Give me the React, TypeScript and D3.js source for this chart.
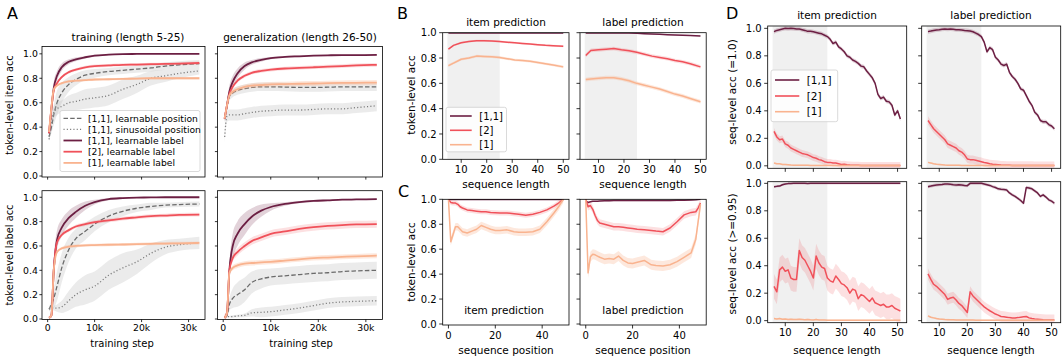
import React from 'react';
import * as d3 from 'd3';

const FONT = 'DejaVu Sans, sans-serif';
const C_DARK = '#6c1f43';
const C_RED = '#f0515a';
const C_PEACH = '#f9b38f';
const C_GREY = '#6b6b6b';
const C_SHADE = '#f0f0f0';

// ---------- A: token-level acc over training
const stepsA = [300, 800, 1300, 2000, 3000, 4500, 6000, 8000, 10000, 13000, 16000, 19000, 22000, 25000, 28000, 32300];
const stepTicks = [0, 10000, 20000, 30000];
const stepTickLabels = ['0', '10k', '20k', '30k'];
const accTicks = [0, 0.2, 0.4, 0.6, 0.8, 1.0];
const accTickLabels = ['0.0', '0.2', '0.4', '0.6', '0.8', '1.0'];
const legendA = ['[1,1], learnable position', '[1,1], sinusoidal position', '[1,1], learnable label', '[2], learnable label', '[1], learnable label'];

// training, item acc
const trItemPos = [0.32, 0.40, 0.50, 0.60, 0.68, 0.75, 0.79, 0.825, 0.84, 0.855, 0.865, 0.875, 0.885, 0.90, 0.91, 0.92];
const trItemPosSd = [0.02, 0.05, 0.08, 0.10, 0.08, 0.06, 0.05, 0.04, 0.035, 0.03, 0.03, 0.03, 0.03, 0.03, 0.03, 0.03];
const trItemSin = [0.30, 0.45, 0.52, 0.55, 0.57, 0.60, 0.61, 0.63, 0.64, 0.66, 0.71, 0.75, 0.80, 0.82, 0.84, 0.86];
const trItemSinSd = [0.02, 0.04, 0.05, 0.05, 0.05, 0.06, 0.07, 0.08, 0.08, 0.08, 0.08, 0.07, 0.06, 0.05, 0.04, 0.03];
const trItem11 = [0.35, 0.55, 0.72, 0.82, 0.89, 0.935, 0.955, 0.972, 0.985, 0.993, 0.997, 0.999, 1, 1, 1, 1];
const trItem11Sd = [0.02, 0.04, 0.05, 0.04, 0.03, 0.02, 0.015, 0.01, 0.008, 0.005, 0.003, 0.002, 0.002, 0.002, 0.002, 0.002];
const trItem2 = [0.35, 0.55, 0.70, 0.76, 0.81, 0.85, 0.87, 0.89, 0.90, 0.905, 0.91, 0.912, 0.915, 0.918, 0.92, 0.925];
const trItem1 = [0.36, 0.56, 0.71, 0.74, 0.76, 0.775, 0.78, 0.785, 0.79, 0.792, 0.795, 0.797, 0.80, 0.80, 0.80, 0.80];

// generalization, item acc
const geItemPos = [0.47, 0.57, 0.65, 0.68, 0.70, 0.715, 0.725, 0.73, 0.73, 0.728, 0.725, 0.725, 0.727, 0.73, 0.73, 0.73];
const geItemSin = [0.32, 0.49, 0.50, 0.50, 0.50, 0.51, 0.52, 0.53, 0.535, 0.54, 0.54, 0.545, 0.55, 0.55, 0.56, 0.575];
const geItem11 = [0.47, 0.58, 0.69, 0.77, 0.84, 0.90, 0.93, 0.95, 0.965, 0.975, 0.98, 0.985, 0.988, 0.99, 0.99, 0.992];
const geItem11Sd = [0.02, 0.04, 0.05, 0.05, 0.04, 0.03, 0.02, 0.015, 0.01, 0.008, 0.006, 0.005, 0.005, 0.005, 0.005, 0.005];
const geItem2 = [0.47, 0.58, 0.67, 0.73, 0.78, 0.82, 0.845, 0.86, 0.87, 0.88, 0.885, 0.89, 0.895, 0.90, 0.905, 0.91];
const geItem1 = [0.47, 0.58, 0.66, 0.69, 0.71, 0.73, 0.74, 0.745, 0.75, 0.752, 0.755, 0.757, 0.76, 0.762, 0.763, 0.765];

// training, label acc
const trLabPos = [0.08, 0.12, 0.17, 0.27, 0.42, 0.57, 0.66, 0.72, 0.78, 0.845, 0.885, 0.91, 0.925, 0.935, 0.94, 0.945];
const trLabPosSd = [0.02, 0.04, 0.08, 0.12, 0.12, 0.10, 0.08, 0.07, 0.06, 0.05, 0.04, 0.03, 0.03, 0.02, 0.02, 0.02];
const trLabSin = [0.08, 0.09, 0.09, 0.09, 0.10, 0.15, 0.20, 0.24, 0.27, 0.36, 0.42, 0.47, 0.54, 0.59, 0.61, 0.625];
const trLabSinSd = [0.01, 0.02, 0.02, 0.03, 0.05, 0.08, 0.10, 0.12, 0.12, 0.12, 0.12, 0.10, 0.08, 0.06, 0.05, 0.05];
const trLab11 = [0.01, 0.03, 0.40, 0.65, 0.75, 0.83, 0.88, 0.93, 0.96, 0.985, 0.993, 0.997, 0.999, 1, 1, 1];
const trLab11Sd = [0.005, 0.01, 0.08, 0.08, 0.07, 0.06, 0.05, 0.035, 0.02, 0.01, 0.005, 0.003, 0.002, 0.002, 0.002, 0.002];
const trLab2 = [0.01, 0.03, 0.40, 0.63, 0.69, 0.73, 0.76, 0.78, 0.795, 0.81, 0.825, 0.835, 0.845, 0.85, 0.855, 0.857];
const trLab1 = [0.01, 0.03, 0.40, 0.55, 0.58, 0.595, 0.60, 0.605, 0.607, 0.61, 0.612, 0.615, 0.618, 0.62, 0.622, 0.625];

// generalization, label acc
const geLabPos = [0.01, 0.03, 0.12, 0.17, 0.20, 0.24, 0.30, 0.33, 0.345, 0.355, 0.365, 0.375, 0.38, 0.39, 0.395, 0.40];
const geLabPosSd = [0.005, 0.02, 0.05, 0.08, 0.10, 0.10, 0.09, 0.08, 0.07, 0.07, 0.07, 0.07, 0.07, 0.07, 0.07, 0.07];
const geLabSin = [0.02, 0.02, 0.02, 0.02, 0.025, 0.03, 0.05, 0.055, 0.06, 0.075, 0.09, 0.11, 0.13, 0.14, 0.145, 0.15];
const geLabSinSd = [0.005, 0.005, 0.005, 0.01, 0.01, 0.015, 0.03, 0.04, 0.04, 0.04, 0.04, 0.04, 0.04, 0.04, 0.04, 0.04];
const geLab11 = [0.01, 0.05, 0.40, 0.60, 0.70, 0.78, 0.84, 0.89, 0.92, 0.945, 0.96, 0.97, 0.975, 0.98, 0.982, 0.985];
const geLab11Sd = [0.005, 0.02, 0.06, 0.10, 0.10, 0.09, 0.07, 0.05, 0.03, 0.015, 0.01, 0.008, 0.006, 0.005, 0.005, 0.005];
const geLab2 = [0.01, 0.05, 0.40, 0.50, 0.55, 0.60, 0.64, 0.67, 0.70, 0.72, 0.74, 0.755, 0.765, 0.772, 0.777, 0.78];
const geLab1 = [0.01, 0.05, 0.38, 0.42, 0.44, 0.455, 0.46, 0.465, 0.47, 0.48, 0.49, 0.50, 0.505, 0.51, 0.515, 0.52];

// ---------- B: acc vs sequence length
const lenB = [5, 7, 10, 13, 16, 19, 22, 25, 28, 31, 34, 37, 40, 43, 46, 50];
const lenTicks = [10, 20, 30, 40, 50];
const lenTickLabels = ['10', '20', '30', '40', '50'];
const legendB = ['[1,1]', '[2]', '[1]'];
const bItem11 = [0.998, 0.998, 0.998, 0.998, 0.998, 0.998, 0.998, 0.998, 0.998, 0.998, 0.998, 0.998, 0.998, 0.998, 0.998, 0.998];
const bItem2 = [0.87, 0.90, 0.92, 0.93, 0.937, 0.937, 0.935, 0.93, 0.925, 0.92, 0.915, 0.91, 0.905, 0.90, 0.897, 0.893];
const bItem1 = [0.74, 0.76, 0.79, 0.80, 0.815, 0.812, 0.81, 0.805, 0.795, 0.785, 0.78, 0.775, 0.765, 0.755, 0.745, 0.73];
const bLab11 = [0.998, 0.998, 0.998, 0.998, 0.998, 0.997, 0.997, 0.995, 0.992, 0.99, 0.987, 0.984, 0.982, 0.98, 0.977, 0.974];
const bLab2 = [0.82, 0.86, 0.865, 0.87, 0.875, 0.865, 0.857, 0.845, 0.83, 0.815, 0.805, 0.795, 0.78, 0.77, 0.755, 0.73];
const bLab1 = [0.63, 0.635, 0.64, 0.645, 0.645, 0.635, 0.62, 0.60, 0.585, 0.57, 0.555, 0.535, 0.515, 0.50, 0.48, 0.455];

// ---------- C: acc vs sequence position
const posC = [0, 1, 2, 3, 4, 5, 6, 8, 10, 12, 14, 16, 18, 20, 22, 25, 28, 30, 33, 36, 39, 42, 45, 47, 48, 49];
const posTicks = [0, 20, 40];
const posTickLabels = ['0', '20', '40'];
const cItem11 = [0.999, 0.999, 0.999, 0.999, 0.999, 0.999, 0.999, 0.999, 0.999, 0.999, 0.999, 0.999, 0.999, 0.999, 0.999, 0.999, 0.999, 0.999, 0.999, 0.999, 0.999, 0.999, 0.999, 0.999, 0.999, 0.999];
const cItem2 = [1.0, 0.975, 0.97, 0.97, 0.96, 0.94, 0.93, 0.915, 0.91, 0.905, 0.90, 0.90, 0.895, 0.893, 0.89, 0.89, 0.885, 0.88, 0.872, 0.88, 0.895, 0.915, 0.945, 0.97, 0.985, 1.0];
const cItem1 = [1.0, 0.66, 0.72, 0.78, 0.78, 0.76, 0.74, 0.73, 0.745, 0.76, 0.79, 0.775, 0.76, 0.75, 0.75, 0.755, 0.74, 0.735, 0.735, 0.74, 0.76, 0.82, 0.89, 0.94, 0.97, 1.0];
const cLab11 = [0.985, 0.975, 0.98, 0.985, 0.985, 0.985, 0.987, 0.988, 0.988, 0.99, 0.99, 0.99, 0.99, 0.99, 0.99, 0.99, 0.99, 0.99, 0.99, 0.99, 0.992, 0.993, 0.995, 0.996, 0.998, 1.0];
const cLab2 = [1.0, 0.94, 0.95, 0.92, 0.87, 0.83, 0.81, 0.80, 0.79, 0.78, 0.78, 0.775, 0.77, 0.765, 0.76, 0.755, 0.75, 0.745, 0.74, 0.77, 0.82, 0.875, 0.895, 0.90, 0.93, 0.97];
const cLab1 = [1.0, 0.41, 0.54, 0.56, 0.555, 0.545, 0.535, 0.52, 0.525, 0.52, 0.545, 0.51, 0.49, 0.485, 0.495, 0.51, 0.475, 0.47, 0.465, 0.475, 0.50, 0.535, 0.57, 0.68, 0.82, 0.96];

// ---------- D: sequence-level acc vs sequence length
const lenD = [6, 7, 8, 9, 10, 11, 12, 13, 14, 15, 16, 17, 18, 19, 20, 21, 22, 23, 24, 25, 26, 27, 28, 29, 30,
  31, 32, 33, 34, 35, 36, 37, 38, 39, 40, 41, 42, 43, 44, 45, 46, 47, 48, 49, 50, 51];
const dExItem11 = [0.976, 0.985, 0.99, 0.995, 1.0, 0.998, 1.0, 0.998, 0.995, 0.995, 0.99, 0.985, 0.978, 0.978, 0.975, 0.97, 0.965, 0.96, 0.95, 0.94,
  0.92, 0.89, 0.90, 0.865, 0.85, 0.83, 0.80, 0.79, 0.77, 0.76, 0.745, 0.725, 0.72, 0.69, 0.665, 0.64, 0.60, 0.52, 0.49, 0.50,
  0.47, 0.465, 0.44, 0.37, 0.40, 0.34];
const dExItem2 = [0.25, 0.21, 0.19, 0.195, 0.16, 0.15, 0.13, 0.12, 0.11, 0.10, 0.09, 0.085, 0.08, 0.07, 0.06, 0.055, 0.045, 0.04, 0.03, 0.025,
  0.025, 0.02, 0.02, 0.015, 0.01, 0.012, 0.008, 0.006, 0.005, 0.005, 0.004, 0.003, 0.003, 0.003, 0.002, 0.002, 0.002, 0.002, 0.002, 0.002,
  0.002, 0.002, 0.002, 0.002, 0.002, 0.002];
const dExItem1 = [0.02, 0.015, 0.015, 0.01, 0.01, 0.008, 0.006, 0.005, 0.005, 0.005, 0.004, 0.004, 0.004, 0.003, 0.003, 0.003, 0.003, 0.003, 0.003, 0.003,
  0.002, 0.002, 0.002, 0.002, 0.002, 0.002, 0.002, 0.002, 0.002, 0.002, 0.002, 0.002, 0.002, 0.002, 0.002, 0.002, 0.002, 0.002, 0.002, 0.002,
  0.002, 0.002, 0.002, 0.002, 0.002, 0.002];
const dExLab11 = [0.976, 0.98, 0.985, 0.988, 0.99, 0.993, 0.995, 0.993, 0.995, 0.993, 0.99, 0.99, 0.988, 0.985, 0.983, 0.98, 0.975, 0.965, 0.955, 0.94,
  0.90, 0.83, 0.86, 0.845, 0.79, 0.77, 0.74, 0.73, 0.74, 0.68, 0.65, 0.63, 0.60, 0.56, 0.55, 0.51, 0.47, 0.44, 0.39, 0.37,
  0.33, 0.32, 0.32, 0.30, 0.29, 0.27];
const dExLab2 = [0.33, 0.30, 0.27, 0.25, 0.23, 0.21, 0.19, 0.16, 0.15, 0.14, 0.13, 0.11, 0.10, 0.08, 0.05, 0.045, 0.045, 0.04, 0.035, 0.03,
  0.024, 0.02, 0.015, 0.012, 0.01, 0.008, 0.006, 0.005, 0.004, 0.004, 0.003, 0.003, 0.003, 0.003, 0.003, 0.003, 0.003, 0.003, 0.002, 0.002,
  0.002, 0.002, 0.002, 0.002, 0.002, 0.002];
const dExLab1 = [0.025, 0.02, 0.015, 0.012, 0.01, 0.008, 0.006, 0.005, 0.005, 0.004, 0.004, 0.004, 0.003, 0.003, 0.003, 0.003, 0.003, 0.003, 0.003, 0.003,
  0.002, 0.002, 0.002, 0.002, 0.002, 0.002, 0.002, 0.002, 0.002, 0.002, 0.002, 0.002, 0.002, 0.002, 0.002, 0.002, 0.002, 0.002, 0.002, 0.002,
  0.002, 0.002, 0.002, 0.002, 0.002, 0.002];
const dNearItem11 = [0.975, 0.978, 0.98, 0.99, 0.995, 0.998, 0.999, 1.0, 1.0, 1.0, 1.0, 1.0, 0.999, 1.0, 1.0, 1.0, 1.0, 1.0, 1.0, 1.0,
  1.0, 1.0, 1.0, 1.0, 1.0, 1.0, 1.0, 1.0, 1.0, 1.0, 1.0, 1.0, 1.0, 1.0, 1.0, 1.0, 1.0, 1.0, 1.0, 1.0,
  1.0, 1.0, 1.0, 1.0, 1.0, 1.0];
const dNearItem2 = [0.25, 0.21, 0.37, 0.39, 0.36, 0.37, 0.31, 0.30, 0.30, 0.51, 0.46, 0.44, 0.40, 0.36, 0.31, 0.47, 0.42, 0.39, 0.38, 0.31,
  0.29, 0.28, 0.325, 0.30, 0.27, 0.26, 0.24, 0.20, 0.23, 0.22, 0.16, 0.19, 0.18, 0.16, 0.14, 0.165, 0.13, 0.12, 0.11, 0.12,
  0.10, 0.10, 0.11, 0.09, 0.08, 0.07];
const dNearItem1 = [0.015, 0.012, 0.015, 0.01, 0.012, 0.008, 0.01, 0.008, 0.008, 0.01, 0.008, 0.006, 0.008, 0.006, 0.005, 0.008, 0.005, 0.005, 0.004, 0.003,
  0.003, 0.003, 0.003, 0.003, 0.003, 0.003, 0.003, 0.003, 0.003, 0.003, 0.003, 0.003, 0.003, 0.003, 0.003, 0.003, 0.003, 0.003, 0.003, 0.003,
  0.003, 0.003, 0.003, 0.003, 0.003, 0.003];
const dNearLab11 = [0.976, 0.98, 0.985, 0.988, 0.99, 0.992, 0.995, 0.995, 0.993, 0.99, 0.988, 0.99, 0.988, 0.985, 0.983, 1.0, 1.0, 1.0, 1.0, 1.0,
  0.995, 0.99, 0.985, 0.976, 0.97, 0.96, 0.957, 0.955, 0.952, 0.93, 0.916, 0.905, 0.89, 0.875, 0.855, 0.97, 0.966, 0.96, 0.945, 0.93,
  0.905, 0.916, 0.90, 0.88, 0.87, 0.855];
const dNearLab2 = [0.34, 0.30, 0.265, 0.25, 0.23, 0.21, 0.19, 0.155, 0.165, 0.17, 0.15, 0.125, 0.11, 0.085, 0.06, 0.21, 0.18, 0.16, 0.14, 0.12,
  0.10, 0.085, 0.072, 0.06, 0.048, 0.04, 0.03, 0.028, 0.025, 0.022, 0.02, 0.02, 0.022, 0.025, 0.028, 0.03, 0.02, 0.015, 0.012, 0.01,
  0.008, 0.006, 0.005, 0.005, 0.005, 0.004];
const dNearLab1 = [0.035, 0.025, 0.02, 0.015, 0.012, 0.01, 0.008, 0.007, 0.006, 0.006, 0.005, 0.005, 0.005, 0.004, 0.004, 0.004, 0.004, 0.003, 0.003, 0.003,
  0.003, 0.003, 0.003, 0.003, 0.003, 0.003, 0.003, 0.003, 0.003, 0.003, 0.003, 0.003, 0.003, 0.003, 0.003, 0.003, 0.003, 0.003, 0.003, 0.003,
  0.003, 0.003, 0.003, 0.003, 0.003, 0.003];

type Sc = d3.ScaleLinear<number, number>;
type Kind = 'pos' | 'sin' | 'k11' | 'k2' | 'k1';

const STYLE: Record<Kind, {color: string; dash?: string; band: string; bandOp: number}> = {
  pos: {color: C_GREY, dash: '4.5,2.2', band: '#bdbdbd', bandOp: 0.3},
  sin: {color: '#7a7a7a', dash: '1.1,2.2', band: '#bdbdbd', bandOp: 0.3},
  k11: {color: C_DARK, band: C_DARK, bandOp: 0.2},
  k2: {color: C_RED, band: C_RED, bandOp: 0.18},
  k1: {color: C_PEACH, band: C_PEACH, bandOp: 0.3},
};

function Trace({xs, ys, sd, kind, x, y, width, smooth}: {
  xs: number[]; ys: number[]; sd: number[] | number; kind: Kind; x: Sc; y: Sc; width: number; smooth?: boolean;
}) {
  const st = STYLE[kind];
  const pts = xs.map((v, i) => [v, ys[i], typeof sd === 'number' ? sd : sd[i]]);
  const curve = smooth ? d3.curveMonotoneX : d3.curveLinear;
  const area = d3.area<number[]>().x(d => x(d[0])).y0(d => y(d[1] - d[2])).y1(d => y(d[1] + d[2])).curve(curve);
  const line = d3.line<number[]>().x(d => x(d[0])).y(d => y(d[1])).curve(curve);
  return (
    <g>
      <path d={area(pts) || ''} fill={st.band} opacity={st.bandOp} stroke="none" />
      <path d={line(pts) || ''} fill="none" stroke={st.color} strokeWidth={kind === 'pos' || kind === 'sin' ? 1.3 : width}
        strokeDasharray={st.dash} strokeLinejoin="round" />
    </g>
  );
}

function Panel(p: {
  id: string; l: number; r: number; t: number; b: number;
  xd: [number, number]; yd: [number, number];
  xTicks: number[]; xTickLabels?: string[];
  yTicks: number[]; yTickLabels?: string[];
  fs: number; tick: number; pad: number; shade?: [number, number];
  draw: (x: Sc, y: Sc) => React.ReactNode;
}) {
  const x = d3.scaleLinear().domain(p.xd).range([p.l, p.r]);
  const y = d3.scaleLinear().domain(p.yd).range([p.b, p.t]);
  return (
    <g>
      <defs>
        <clipPath id={p.id}><rect x={p.l} y={p.t} width={p.r - p.l} height={p.b - p.t} /></clipPath>
      </defs>
      {p.shade && <rect x={x(p.shade[0])} y={p.t} width={x(p.shade[1]) - x(p.shade[0])} height={p.b - p.t} fill={C_SHADE} />}
      <g clipPath={`url(#${p.id})`}>{p.draw(x, y)}</g>
      <rect x={p.l} y={p.t} width={p.r - p.l} height={p.b - p.t} fill="none" stroke="#000" strokeWidth={0.8} />
      {p.xTicks.map((v, i) => (
        <g key={'x' + i}>
          <line x1={x(v)} x2={x(v)} y1={p.b} y2={p.b + p.tick} stroke="#000" strokeWidth={0.8} />
          {p.xTickLabels && <text x={x(v)} y={p.b + p.tick + p.pad + p.fs * 0.76} textAnchor="middle" fontSize={p.fs}>{p.xTickLabels[i]}</text>}
        </g>
      ))}
      {p.yTicks.map((v, i) => (
        <g key={'y' + i}>
          <line x1={p.l - p.tick} x2={p.l} y1={y(v)} y2={y(v)} stroke="#000" strokeWidth={0.8} />
          {p.yTickLabels && <text x={p.l - p.tick - p.pad} y={y(v) + p.fs * 0.36} textAnchor="end" fontSize={p.fs}>{p.yTickLabels[i]}</text>}
        </g>
      ))}
    </g>
  );
}

function Legend({x, y, w, h, rows, labels, kinds, fs, lineFrom, lineTo, textX, width}: {
  x: number; y: number; w: number; h: number; rows: number[]; labels: string[]; kinds: Kind[];
  fs: number; lineFrom: number; lineTo: number; textX: number; width: number;
}) {
  return (
    <g>
      <rect x={x} y={y} width={w} height={h} rx={2} fill="#fff" fillOpacity={0.85} stroke="#d0d0d0" strokeWidth={0.8} />
      {labels.map((s, i) => {
        const st = STYLE[kinds[i]];
        const grey = kinds[i] === 'pos' || kinds[i] === 'sin';
        return (
          <g key={i}>
            <line x1={lineFrom} x2={lineTo} y1={rows[i]} y2={rows[i]} stroke={st.color} strokeWidth={grey ? 1.3 : width} strokeDasharray={st.dash} />
            <text x={textX} y={rows[i] + fs * 0.36} fontSize={fs}>{s}</text>
          </g>
        );
      })}
    </g>
  );
}

const ylab = (x: number, y: number, s: string, fs: number) => (
  <text transform={`translate(${x},${y}) rotate(-90)`} textAnchor="middle" fontSize={fs}>{s}</text>
);

const kindsA: Kind[] = ['pos', 'sin', 'k11', 'k2', 'k1'];
const kindsB: Kind[] = ['k11', 'k2', 'k1'];

export default function App() {
  const colsA = [[42, 205], [217.5, 382.5]];
  const gridA = [
    {row: 0, col: 0, ys: [trItemPos, trItemSin, trItem11, trItem2, trItem1], sd: [trItemPosSd, trItemSinSd, trItem11Sd, 0.012, 0.01]},
    {row: 0, col: 1, ys: [geItemPos, geItemSin, geItem11, geItem2, geItem1], sd: [0.035, 0.045, geItem11Sd, 0.015, 0.02]},
    {row: 1, col: 0, ys: [trLabPos, trLabSin, trLab11, trLab2, trLab1], sd: [trLabPosSd, trLabSinSd, trLab11Sd, 0.015, 0.012]},
    {row: 1, col: 1, ys: [geLabPos, geLabSin, geLab11, geLab2, geLab1], sd: [geLabPosSd, geLabSinSd, geLab11Sd, 0.03, 0.02]},
  ];
  const rowsA = [{t: 46.5, b: 177, yd: [-0.008, 1.06] as [number, number]}, {t: 190.7, b: 319.5, yd: [-0.004, 1.054] as [number, number]}];

  const colsB = [[442.7, 569], [580, 706.2]];
  const gridB = [
    {col: 0, ys: [bItem11, bItem2, bItem1], sd: [0.002, 0.008, 0.01]},
    {col: 1, ys: [bLab11, bLab2, bLab1], sd: [0.004, 0.015, 0.015]},
  ];
  const gridC = [
    {col: 0, ys: [cItem11, cItem2, cItem1], sd: [0.004, 0.02, 0.03]},
    {col: 1, ys: [cLab11, cLab2, cLab1], sd: [0.006, 0.03, 0.04]},
  ];

  const colsD = [[767.7, 906.7], [921.7, 1060.7]];
  const rowsD = [{t: 26, b: 168.3, yd: [-0.018, 1.017] as [number, number]}, {t: 181.7, b: 322.7, yd: [-0.015, 1.012] as [number, number]}];
  const gridD = [
    {row: 0, col: 0, ys: [dExItem11, dExItem2, dExItem1], sd: [0.015, 0.025, 0.005]},
    {row: 0, col: 1, ys: [dExLab11, dExLab2, dExLab1], sd: [0.015, 0.03, 0.005]},
    {row: 1, col: 0, ys: [dNearItem11, dNearItem2, dNearItem1], sd: [0.008, 0.09, 0.006]},
    {row: 1, col: 1, ys: [dNearLab11, dNearLab2, dNearLab1], sd: [0.012, 0.04, 0.006]},
  ];

  return (
    <svg width={1062} height={360} style={{position: 'absolute', left: 0, top: 0, display: 'block'}} fontFamily={FONT}>
      <rect width={1062} height={360} fill="#fff" />

      {/* A */}
      {gridA.map((g, i) => {
        const [l, r] = colsA[g.col];
        const rw = rowsA[g.row];
        return (
          <Panel key={'A' + i} id={'clipA' + i} l={l} r={r} t={rw.t} b={rw.b} xd={[-1200, 33500]} yd={rw.yd}
            xTicks={stepTicks} xTickLabels={g.row === 1 ? stepTickLabels : undefined}
            yTicks={accTicks} yTickLabels={g.col === 0 ? accTickLabels : undefined}
            fs={9.3} tick={2.6} pad={1.5}
            draw={(x, y) => g.ys.map((ys, k) => (
              <Trace key={k} xs={stepsA} ys={ys} sd={g.sd[k]} kind={kindsA[k]} x={x} y={y} width={1.8} smooth />
            ))} />
        );
      })}
      <Legend x={60} y={110.5} w={140} h={61} rows={[118.3, 129.4, 140.5, 151.7, 162.9]} labels={legendA} kinds={kindsA}
        fs={9.2} lineFrom={63.5} lineTo={82} textX={88} width={1.8} />
      <text x={128} y={41} textAnchor="middle" fontSize={10.5}>training (length 5-25)</text>
      <text x={300} y={41} textAnchor="middle" fontSize={10.5}>generalization (length 26-50)</text>
      {ylab(13, 105, 'token-level item acc', 9.8)}
      {ylab(13, 255, 'token-level label acc', 9.8)}
      <text x={122} y={347} textAnchor="middle" fontSize={10}>training step</text>
      <text x={301} y={347} textAnchor="middle" fontSize={10}>training step</text>

      {/* B */}
      {gridB.map((g, i) => {
        const [l, r] = colsB[g.col];
        return (
          <Panel key={'B' + i} id={'clipB' + i} l={l} r={r} t={32.7} b={159.3} xd={[2.75, 52.25]} yd={[0, 1]}
            xTicks={lenTicks} xTickLabels={lenTickLabels}
            yTicks={accTicks} yTickLabels={g.col === 0 ? accTickLabels : undefined}
            fs={10} tick={3.5} pad={2.5} shade={[4.6, 25.1]}
            draw={(x, y) => g.ys.map((ys, k) => (
              <Trace key={k} xs={lenB} ys={ys} sd={g.sd[k]} kind={kindsB[k]} x={x} y={y} width={1.5} />
            ))} />
        );
      })}
      <Legend x={446} y={107.3} w={60.5} h={44.5} rows={[116, 130.3, 144.7]} labels={legendB} kinds={kindsB}
        fs={10} lineFrom={450} lineTo={471.7} textX={479.3} width={1.6} />
      <text x={506} y={26} textAnchor="middle" fontSize={10.5}>item prediction</text>
      <text x={643} y={26} textAnchor="middle" fontSize={10.5}>label prediction</text>
      {ylab(415, 95, 'token-level acc', 10.5)}
      <text x={506} y={188} textAnchor="middle" fontSize={10.5}>sequence length</text>
      <text x={643} y={188} textAnchor="middle" fontSize={10.5}>sequence length</text>

      {/* C */}
      {gridC.map((g, i) => {
        const [l, r] = colsB[g.col];
        return (
          <Panel key={'C' + i} id={'clipC' + i} l={l} r={r} t={199.3} b={325} xd={[-2.45, 51.45]} yd={[-0.008, 1.0]}
            xTicks={posTicks} xTickLabels={posTickLabels}
            yTicks={accTicks} yTickLabels={g.col === 0 ? accTickLabels : undefined}
            fs={10} tick={3.5} pad={2.5}
            draw={(x, y) => g.ys.map((ys, k) => (
              <Trace key={k} xs={posC} ys={ys} sd={g.sd[k]} kind={kindsB[k]} x={x} y={y} width={1.5} />
            ))} />
        );
      })}
      <text x={504} y={314} textAnchor="middle" fontSize={10.5}>item prediction</text>
      <text x={643} y={314} textAnchor="middle" fontSize={10.5}>label prediction</text>
      {ylab(415, 262, 'token-level acc', 10.5)}
      <text x={506} y={354} textAnchor="middle" fontSize={10.5}>sequence position</text>
      <text x={643} y={354} textAnchor="middle" fontSize={10.5}>sequence position</text>

      {/* D */}
      {gridD.map((g, i) => {
        const [l, r] = colsD[g.col];
        const rw = rowsD[g.row];
        return (
          <Panel key={'D' + i} id={'clipD' + i} l={l} r={r} t={rw.t} b={rw.b} xd={[3.75, 53.25]} yd={rw.yd}
            xTicks={lenTicks} xTickLabels={g.row === 1 ? lenTickLabels : undefined}
            yTicks={accTicks} yTickLabels={g.col === 0 ? accTickLabels : undefined}
            fs={10} tick={3.5} pad={2.5} shade={[5.5, 25]}
            draw={(x, y) => g.ys.map((ys, k) => (
              <Trace key={k} xs={lenD} ys={ys} sd={g.sd[k]} kind={kindsB[k]} x={x} y={y} width={1.5} />
            ))} />
        );
      })}
      <Legend x={771} y={70} w={66.7} h={51.7} rows={[80, 96, 111.7]} labels={legendB} kinds={kindsB}
        fs={10.5} lineFrom={775} lineTo={799.3} textX={806.7} width={1.6} />
      <text x={837} y={18.5} textAnchor="middle" fontSize={10.5}>item prediction</text>
      <text x={991} y={18.5} textAnchor="middle" fontSize={10.5}>label prediction</text>
      {ylab(736, 92, 'seq-level acc (=1.0)', 10.5)}
      {ylab(736, 254, 'seq-level acc (>=0.95)', 10.5)}
      <text x={837} y={354} textAnchor="middle" fontSize={10.5}>sequence length</text>
      <text x={991} y={354} textAnchor="middle" fontSize={10.5}>sequence length</text>

      {/* panel letters */}
      <text x={7} y={19} fontSize={16}>A</text>
      <text x={397} y={18.5} fontSize={16}>B</text>
      <text x={398} y={197} fontSize={16}>C</text>
      <text x={726} y={18.5} fontSize={16}>D</text>
    </svg>
  );
}
